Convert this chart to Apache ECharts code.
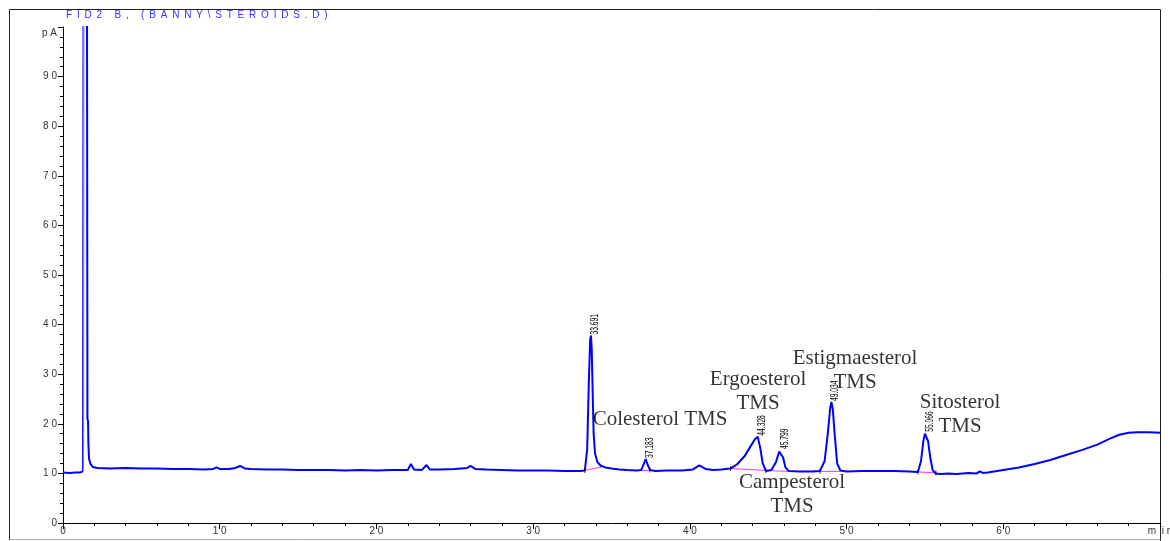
<!DOCTYPE html>
<html>
<head>
<meta charset="utf-8">
<title>FID2 B, (BANNY\STEROIDS.D)</title>
<script src="https://cdn.jsdelivr.net/npm/echarts@6/dist/echarts.min.js"></script>
<style>
  html, body { margin: 0; padding: 0; background: #fff; }
  #chart { width: 1170px; height: 541px; }
</style>
</head>
<body>
<div id="chart"></div>
<script>
// FID2 B detector trace: retention time (min) and signal (pA)
const times = [
  0.00, 0.40, 0.80, 1.10, 1.28, 1.32, 1.52, 1.56, 1.60, 1.62, 1.66, 1.75, 1.90, 2.20,
  3.0, 4.0, 5.0, 6.0, 7.0, 8.0, 9.0, 9.6, 9.8, 10.0, 10.6, 11.0, 11.3, 11.6, 12.0,
  13.0, 14.0, 15.0, 16.0, 17.0, 18.0, 19.0, 20.0, 21.0, 22.0, 22.2, 22.4, 22.9, 23.2,
  23.4, 24.0, 25.0, 25.8, 26.0, 26.3, 27.0, 28.0, 29.0, 30.0, 31.0, 32.0, 33.0,
  33.30, 33.45, 33.55, 33.64, 33.69, 33.74, 33.80, 33.86, 33.95, 34.10, 34.30, 34.60,
  35.00, 35.50, 36.0, 36.6, 36.9, 37.05, 37.18, 37.30, 37.45, 37.8, 38.5, 39.5, 40.2,
  40.6, 41.0, 41.5, 42.0, 42.6, 43.0, 43.5, 43.9, 44.15, 44.33, 44.50, 44.65, 44.85,
  45.2, 45.5, 45.70, 45.80, 45.95, 46.10, 46.3, 47.0, 47.8, 48.3, 48.6, 48.80, 48.95,
  49.03, 49.12, 49.25, 49.40, 49.60, 50.0, 51.0, 52.0, 53.0, 54.0, 54.55, 54.75, 54.90,
  55.00, 55.07, 55.20, 55.35, 55.50, 55.70, 56.0, 56.5, 57.0, 57.8, 58.3, 58.5, 58.7,
  59.0, 60.0, 61.0, 62.0, 63.0, 64.0, 65.0, 66.0, 66.8, 67.4, 68.0, 68.6, 69.3, 70.0
];
const signal = [
  10.2, 10.1, 10.2, 10.2, 10.4, 140, 140, 21.0, 20.5, 16.0, 13.0, 11.9, 11.3, 11.1,
  11.0, 11.1, 11.0, 11.0, 10.9, 10.9, 10.8, 10.9, 11.2, 10.9, 10.9, 11.1, 11.5, 11.0, 10.9,
  10.8, 10.8, 10.7, 10.7, 10.7, 10.6, 10.7, 10.6, 10.7, 10.7, 11.9, 10.8, 10.7, 11.7,
  10.8, 10.8, 10.9, 11.1, 11.5, 10.9, 10.8, 10.7, 10.6, 10.6, 10.6, 10.5, 10.5,
  10.6, 15.0, 28.0, 37.0, 37.8, 35.0, 26.0, 18.0, 14.0, 12.3, 11.6, 11.2,
  11.0, 10.8, 10.7, 10.6, 10.7, 11.8, 12.9, 11.8, 10.7, 10.5, 10.6, 10.6, 10.8,
  11.6, 10.9, 10.7, 10.8, 11.0, 11.8, 13.5, 15.6, 16.9, 17.4, 15.0, 12.0, 10.5,
  10.7, 12.3, 14.4, 14.7, 13.2, 11.2, 10.5, 10.4, 10.4, 10.5, 12.5, 18.0, 23.0,
  24.4, 23.0, 17.5, 12.0, 10.6, 10.4, 10.5, 10.5, 10.5, 10.4, 10.3, 12.5, 16.5,
  18.0, 18.2, 16.5, 13.0, 10.6, 10.0, 9.9, 10.0, 9.9, 10.1, 10.0, 10.4, 10.1,
  10.2, 10.7, 11.2, 11.9, 12.7, 13.7, 14.7, 15.8, 17.0, 17.8, 18.2, 18.3, 18.3, 18.2
];

// Integrated peaks: retention time labels and apex heights
const peakTimes = [33.691, 37.183, 44.328, 45.799, 49.034, 55.066];
const peakLabels = ['33.691', '37.183', '44.328', '45.799', '49.034', '55.066'];
const peakHeights = [37.8, 12.9, 17.4, 14.7, 24.4, 18.2];

// Integration baselines drawn under the peaks
const baselineSegments = [
  [[33.30, 10.6], [34.40, 11.3]],
  [[36.90, 10.6], [37.50, 10.6]],
  [[42.60, 11.0], [44.85, 10.6], [46.30, 10.4], [48.30, 10.4], [49.60, 10.4]],
  [[54.55, 10.3], [55.70, 10.1]]
];
// Peak start / end event marks
const eventTimes = [33.30, 37.45, 42.60, 44.85, 48.30, 54.55, 55.70];
const eventLevels = [10.6, 10.7, 11.0, 10.6, 10.4, 10.3, 10.1];

// Compound names placed beside their peaks (time, pA)
const compoundNames = ['Colesterol TMS', 'Ergoesterol\nTMS', 'Estigmaesterol\nTMS', 'Campesterol\nTMS', 'Sitosterol\nTMS'];
const compoundAt = [[38.1, 20.8], [44.35, 26.6], [50.54, 30.8], [46.52, 5.8], [57.24, 21.9]];

// Axis tick labels
const xTickText = { 0: '0', 10: '1 0', 20: '2 0', 30: '3 0', 40: '4 0', 50: '5 0', 60: '6 0', 70: 'm  i n' };
const yTickText = { 0: '0', 10: '1 0', 20: '2 0', 30: '3 0', 40: '4 0', 50: '5 0', 60: '6 0', 70: '7 0', 80: '8 0', 90: '9 0', 100: '{pa|p A}' };

const titleText = 'FID2 B, (BANNY\\STEROIDS.D)';

const traceData = times.map((t, i) => [t, signal[i]]);

const chart = echarts.init(document.getElementById('chart'), null, { renderer: 'canvas' });

const axisFont = { fontFamily: 'Liberation Sans, Arial, sans-serif', fontSize: 10, color: '#333' };

const series = [
  {
    type: 'line',
    data: traceData,
    showSymbol: false,
    symbol: 'none',
    lineStyle: { width: 2 },
    clip: true,
    z: 3
  }
];

baselineSegments.forEach(seg => {
  series.push({
    type: 'line',
    data: seg,
    showSymbol: false,
    symbol: 'none',
    lineStyle: { color: '#ff33ff', width: 1 },
    z: 2
  });
});

series.push({
  type: 'scatter',
  data: eventTimes.map((t, i) => [t, eventLevels[i]]),
  symbol: 'rect',
  symbolSize: [1, 5],
  itemStyle: { color: '#000' },
  z: 4
});

// Retention times, written upward in a narrow face just right of each apex
series.push({
  type: 'custom',
  data: peakTimes.map((t, i) => [t, peakHeights[i]]),
  renderItem: (params, api) => {
    const p = api.coord([api.value(0), api.value(1)]);
    return {
      type: 'text',
      x: p[0] + 4,
      y: p[1] - 1,
      rotation: Math.PI / 2,
      scaleX: 0.64,
      style: {
        text: peakLabels[params.dataIndex],
        fill: '#000',
        font: '10.5px "Liberation Sans", Arial, sans-serif',
        align: 'left',
        verticalAlign: 'middle'
      }
    };
  },
  z: 5
});

series.push({
  type: 'scatter',
  data: compoundNames.map((n, i) => ({ value: compoundAt[i], name: n })),
  symbolSize: 0,
  label: {
    show: true,
    formatter: p => p.name,
    position: 'inside',
    align: 'center',
    verticalAlign: 'middle',
    fontFamily: 'Liberation Serif, Times New Roman, serif',
    fontSize: 21,
    lineHeight: 24,
    color: '#000'
  },
  z: 6
});

// Spaced-out header text, one rich token per character
const titleRich = titleText.split('').map(ch => '{c|' + (ch === ' ' ? '\u00a0' : ch) + '}').join('');

chart.setOption({
  animation: false,
  backgroundColor: '#fff',
  grid: { left: 63, top: 27, width: 1097, height: 496, containLabel: false, outerBoundsMode: 'none' },
  // the injection spike's rising edge is drawn in a paler blue
  visualMap: {
    show: false,
    type: 'piecewise',
    seriesIndex: 0,
    dimension: 0,
    pieces: [
      { lt: 1.29, color: '#0000ff' },
      { gte: 1.29, lt: 1.45, color: '#7d7dff' },
      { gte: 1.45, color: '#0000ff' }
    ]
  },
  xAxis: {
    type: 'value',
    min: 0,
    max: 70,
    interval: 10,
    axisLine: { show: true, onZero: false, lineStyle: { color: '#000', width: 1 } },
    axisTick: { show: true, length: 6, lineStyle: { color: '#000' } },
    minorTick: { show: true, splitNumber: 5, length: 3, lineStyle: { color: '#000' } },
    splitLine: { show: false },
    axisLabel: Object.assign({ margin: 3, formatter: v => xTickText[v] !== undefined ? xTickText[v] : '', showMaxLabel: true }, axisFont)
  },
  yAxis: {
    type: 'value',
    min: 0,
    max: 100,
    interval: 10,
    axisLine: { show: true, onZero: false, lineStyle: { color: '#000', width: 1 } },
    axisTick: { show: true, length: 5, lineStyle: { color: '#000' } },
    minorTick: { show: true, splitNumber: 5, length: 3, lineStyle: { color: '#000' } },
    splitLine: { show: false },
    axisLabel: Object.assign({
      margin: 6,
      formatter: v => yTickText[v] !== undefined ? yTickText[v] : '',
      rich: { pa: { fontFamily: 'Liberation Sans, Arial, sans-serif', fontSize: 10, color: '#333', padding: [12, 0, 0, 0] } }
    }, axisFont)
  },
  graphic: [
    { type: 'line', shape: { x1: 9.5, y1: 9.5, x2: 1160.5, y2: 9.5 }, style: { stroke: '#222', lineWidth: 1 } },
    { type: 'line', shape: { x1: 9.5, y1: 9.5, x2: 9.5, y2: 540 }, style: { stroke: '#222', lineWidth: 1 } },
    { type: 'line', shape: { x1: 1160.5, y1: 9.5, x2: 1160.5, y2: 541 }, style: { stroke: '#222', lineWidth: 1 } },
    { type: 'line', shape: { x1: 9.5, y1: 539.5, x2: 1160.5, y2: 539.5 }, style: { stroke: '#aaa', lineWidth: 1 } },
    {
      type: 'text', left: 66, top: 10,
      style: {
        text: titleRich,
        rich: { c: { fill: '#3333ff', font: '10px "Liberation Sans", Arial, sans-serif', padding: [0, 2.4, 0, 2.4] } }
      }
    }
  ],
  series: series
});
</script>
</body>
</html>
